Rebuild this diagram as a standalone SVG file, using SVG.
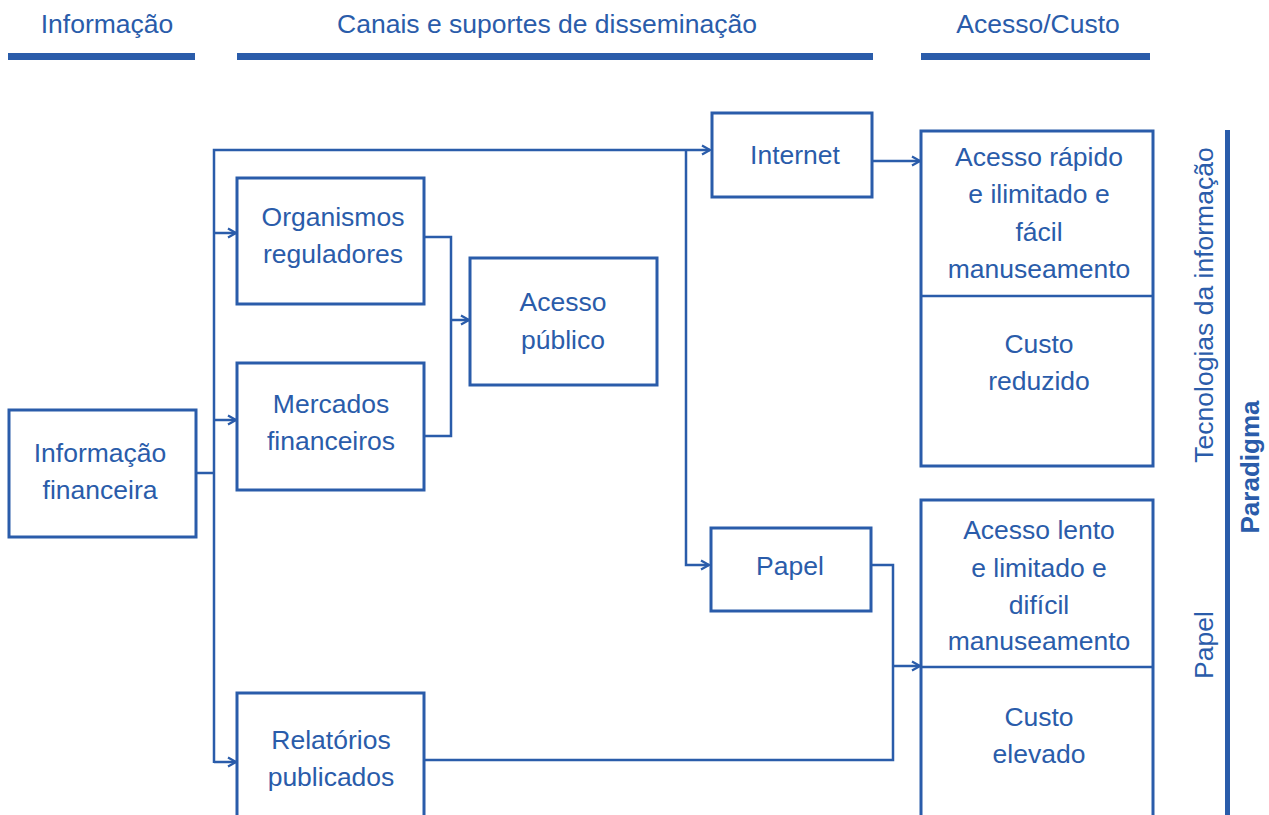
<svg xmlns="http://www.w3.org/2000/svg" width="1269" height="815" viewBox="0 0 1269 815">
<style>
text{font-family:"Liberation Sans",Arial,sans-serif;font-size:26.5px;fill:#2a5caa;text-anchor:middle}
.box{fill:#fff;stroke:#2a5caa;stroke-width:3}
.c{fill:none;stroke:#2a5caa;stroke-width:2.5}
.bar{fill:#2a5caa}
</style>
<defs>
<marker id="ar" viewBox="0 0 12 12" refX="11" refY="6" markerWidth="12" markerHeight="12" markerUnits="userSpaceOnUse" orient="auto">
<polyline points="3,1.5 11,6 3,10.5" fill="none" stroke="#2a5caa" stroke-width="2.2"/>
</marker>
</defs>
<g id="headers">
<text x="107" y="33">Informação</text>
<rect class="bar" x="8" y="53" width="187" height="7"/>
<text x="547" y="33">Canais e suportes de disseminação</text>
<rect class="bar" x="237" y="53" width="636" height="7"/>
<text x="1038" y="33">Acesso/Custo</text>
<rect class="bar" x="921" y="53" width="229" height="7"/>
</g>
<g id="connectors">
<polyline class="c" points="196,473 214,473"/>
<polyline class="c" points="214,763 214,150 710,150" marker-end="url(#ar)"/>
<polyline class="c" points="214,233 236,233" marker-end="url(#ar)"/>
<polyline class="c" points="214,420 236,420" marker-end="url(#ar)"/>
<polyline class="c" points="214,762 236,762" marker-end="url(#ar)"/>
<polyline class="c" points="686,150 686,565 709,565" marker-end="url(#ar)"/>
<polyline class="c" points="424,237 451,237 451,436 424,436"/>
<polyline class="c" points="451,320 469,320" marker-end="url(#ar)"/>
<polyline class="c" points="872,161 920,161" marker-end="url(#ar)"/>
<polyline class="c" points="871,565 893,565 893,760 424,760"/>
<polyline class="c" points="893,666 920,666" marker-end="url(#ar)"/>
</g>
<g id="n-info"><rect class="box" x="9" y="410" width="187" height="127"/><text x="100" y="462">Informação</text><text x="100" y="499">financeira</text></g>
<g id="n-org"><rect class="box" x="237" y="178" width="187" height="126"/><text x="333" y="226">Organismos</text><text x="333" y="263">reguladores</text></g>
<g id="n-merc"><rect class="box" x="237" y="363" width="187" height="127"/><text x="331" y="413">Mercados</text><text x="331" y="450">financeiros</text></g>
<g id="n-pub"><rect class="box" x="470" y="258" width="187" height="127"/><text x="563" y="311">Acesso</text><text x="563" y="349">público</text></g>
<g id="n-internet"><rect class="box" x="712" y="113" width="160" height="84"/><text x="795" y="164">Internet</text></g>
<g id="n-papel"><rect class="box" x="711" y="528" width="160" height="83"/><text x="790" y="575">Papel</text></g>
<g id="n-rel"><rect class="box" x="237" y="693" width="187" height="140"/><text x="331" y="749">Relatórios</text><text x="331" y="786">publicados</text></g>
<g id="n-ti">
<rect class="box" x="921" y="131" width="232" height="335"/>
<line class="c" x1="921" y1="296" x2="1153" y2="296"/>
<text x="1039" y="166">Acesso rápido</text><text x="1039" y="203">e ilimitado e</text><text x="1039" y="241">fácil</text><text x="1039" y="278">manuseamento</text>
<text x="1039" y="353">Custo</text><text x="1039" y="390">reduzido</text>
</g>
<g id="n-pap">
<rect class="box" x="921" y="500" width="232" height="340"/>
<line class="c" x1="921" y1="667" x2="1153" y2="667"/>
<text x="1039" y="539">Acesso lento</text><text x="1039" y="577">e limitado e</text><text x="1039" y="614">difícil</text><text x="1039" y="650">manuseamento</text>
<text x="1039" y="726">Custo</text><text x="1039" y="763">elevado</text>
</g>
<g id="paradigma">
<rect class="bar" x="1225" y="130" width="5" height="690"/>
<text transform="translate(1213,305) rotate(-90)">Tecnologias da informação</text>
<text transform="translate(1213,645) rotate(-90)">Papel</text>
<text transform="translate(1259,467) rotate(-90)" style="font-weight:bold;font-size:26px">Paradigma</text>
</g>
</svg>
